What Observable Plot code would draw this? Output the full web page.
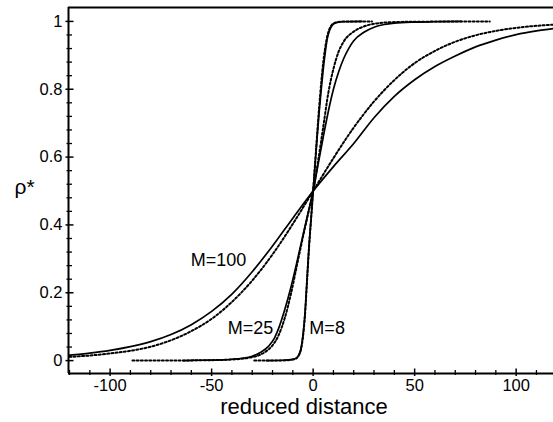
<!DOCTYPE html>
<html><head><meta charset="utf-8">
<script src="https://cdn.jsdelivr.net/npm/d3@7"></script>
<script src="https://cdn.jsdelivr.net/npm/@observablehq/plot@0.6"></script>
<style>html,body{margin:0;padding:0;background:#fff;overflow:hidden;}</style>
</head><body><div id="chart"></div>
<script>
// ---- data ----
const solid100X = [-120,-110,-100,-90,-80,-70,-60,-50,-40,-30,-20,-10,0,10,20,30,40,50,60,70,80,90,100,110,120];
const solid100Y = [0.016,0.022,0.030,0.041,0.056,0.077,0.106,0.145,0.196,0.262,0.338,0.42,0.5,0.572,0.64,0.716,0.779,0.828,0.867,0.898,0.925,0.945,0.961,0.972,0.98];
const dotted100X = [-120,-110,-100,-90,-80,-70,-60,-50,-40,-30,-20,-10,0,10,20,30,40,50,60,70,80,90,100,110,120];
const dotted100Y = [0.011,0.015,0.021,0.029,0.041,0.06,0.087,0.123,0.173,0.236,0.313,0.403,0.5,0.597,0.687,0.764,0.827,0.877,0.913,0.94,0.959,0.972,0.981,0.987,0.991];

const solid25X = [-64,-55,-45,-40,-35,-30,-26,-22,-19,-17,-14,-11,-8,-5,-2.5,0,2.5,5,7.5,10,12.5,15,17.5,20,25,30,35,40,50,60,73];
const solid25Y = [0,0.001,0.002,0.004,0.007,0.013,0.024,0.042,0.067,0.095,0.15,0.215,0.29,0.37,0.435,0.5,0.58,0.66,0.735,0.8,0.85,0.89,0.92,0.943,0.968,0.983,0.991,0.995,0.998,0.999,1];
const dotted25X = [-89,-70,-55,-45,-38,-32,-27,-23,-20,-17,-14,-11,-8,-5,-2.5,0,2.5,5,7.5,10,12.5,15,20,25,30,40,50,87];
const dotted25Y = [0,0.0003,0.001,0.002,0.004,0.008,0.015,0.028,0.045,0.075,0.125,0.195,0.28,0.365,0.432,0.5,0.59,0.69,0.79,0.86,0.91,0.94,0.97,0.985,0.993,0.998,0.999,1];

const solid8X = [-23,-15,-10,-8,-7,-6,-5,-4,-3,-2,-1,0,1,2,3,4,5,6,7,8,9,10,12,15,24];
const solid8Y = [0,0.001,0.004,0.009,0.018,0.035,0.075,0.14,0.24,0.34,0.42,0.5,0.58,0.66,0.735,0.8,0.86,0.91,0.95,0.972,0.985,0.992,0.997,0.999,1];
const dotted8X = [-29,-15,-10,-8,-7,-6,-5,-4,-3,-2,-1,0,1,2,3,4,5,6,7,8,9,10,12,15,29];
const dotted8Y = [0,0.0005,0.003,0.008,0.016,0.032,0.07,0.135,0.235,0.335,0.418,0.5,0.585,0.67,0.75,0.82,0.88,0.925,0.958,0.977,0.988,0.994,0.998,0.9995,1];

const xMajorTicks = [-100,-50,0,50,100];
const xMinorTicks = [-120,-110,-90,-80,-70,-60,-40,-30,-20,-10,10,20,30,40,60,70,80,90,110];
const yMajorTicks = [0,0.2,0.4,0.6,0.8,1];
const yMinorTicks = [0.04,0.08,0.12,0.16,0.24,0.28,0.32,0.36,0.44,0.48,0.52,0.56,0.64,0.68,0.72,0.76,0.84,0.88,0.92,0.96];

const curveLabels = ["M=100","M=25","M=8"];
const curveLabelX = [-46.6,-30.9,6.9];
const curveLabelY = [0.296,0.096,0.096];

const xTitle = "reduced distance";
const yTitle = "ρ*";

// ---- build tables ----
function pts(xs, ys, m) { return xs.map((x, i) => ({x, y: ys[i], M: m})); }
const solid = [...pts(solid100X, solid100Y, "100"), ...pts(solid25X, solid25Y, "25"), ...pts(solid8X, solid8Y, "8")];
const dotted = [...pts(dotted100X, dotted100Y, "100"), ...pts(dotted25X, dotted25Y, "25"), ...pts(dotted8X, dotted8Y, "8")];
const labels = curveLabels.map((t, i) => ({t, x: curveLabelX[i], y: curveLabelY[i]}));

const W = 553, H = 422, mL = 68, mR = 0, mT = 7, mB = 49;
const plotW = W - mL - mR, plotH = H - mT - mB;
const xDomain = [-120.5, 118.4];
const yDomain = [-0.038, 1.041];
// pixel -> data-unit conversion for tick lengths (derived from the scales)
const pxX = (xDomain[1] - xDomain[0]) / plotW;
const pxY = (yDomain[1] - yDomain[0]) / plotH;
const font = "'Liberation Sans', Arial, Helvetica, sans-serif";

const tickX = (ticks, outPx, inPx, sw) => Plot.link(ticks, {
  x1: d => d, x2: d => d,
  y1: () => yDomain[0] - outPx * pxY, y2: () => yDomain[0] + inPx * pxY,
  stroke: "black", strokeWidth: sw
});
const tickY = (ticks, outPx, inPx, sw) => Plot.link(ticks, {
  y1: d => d, y2: d => d,
  x1: () => xDomain[0] - outPx * pxX, x2: () => xDomain[0] + inPx * pxX,
  stroke: "black", strokeWidth: sw
});

const chart = Plot.plot({
  width: W, height: H,
  marginLeft: mL, marginRight: mR, marginTop: mT, marginBottom: mB,
  x: {domain: xDomain},
  y: {domain: yDomain},
  style: {fontFamily: font, fontSize: "16px", color: "black", background: "white"},
  marks: [
    Plot.line(dotted, {x: "x", y: "y", z: "M", stroke: "black", strokeWidth: 2, strokeDasharray: "2,2.2", curve: "monotone-x", clip: true}),
    Plot.line(solid, {x: "x", y: "y", z: "M", stroke: "black", strokeWidth: 1.7, curve: "monotone-x", clip: true}),
    Plot.text(labels, {x: "x", y: "y", text: "t", fontSize: 18, textAnchor: "middle", lineAnchor: "middle", fill: "black"}),
    // frame lines
    Plot.ruleX([xDomain[0]], {stroke: "black", strokeWidth: 2}),
    Plot.ruleY([yDomain[0]], {stroke: "black", strokeWidth: 2}),
    Plot.ruleY([yDomain[1]], {stroke: "black", strokeWidth: 2}),
    // tick marks crossing the axes
    tickX(xMajorTicks, 2.5, 5, 1.5),
    tickX(xMinorTicks, 1.5, 3.5, 1.3),
    tickY(yMajorTicks, 3, 5, 1.5),
    tickY(yMinorTicks, 2, 3.5, 1.3),
    // tick labels
    Plot.axisX(xMajorTicks, {anchor: "bottom", tickSize: 0, tickPadding: 6, tickFormat: d => String(d), label: null, fontSize: 16.5}),
    Plot.axisY(yMajorTicks, {anchor: "left", tickSize: 0, tickPadding: 6, tickFormat: d => String(d), label: null, fontSize: 16.5}),
    // titles
    Plot.text([xTitle], {frameAnchor: "bottom", dx: -7, dy: 40, lineAnchor: "bottom", textAnchor: "middle", fontSize: 22, fill: "black"}),
    Plot.text([yTitle], {frameAnchor: "left", dx: -44, dy: -3, lineAnchor: "middle", textAnchor: "middle", fontSize: 21, fill: "black"})
  ]
});
document.getElementById("chart").appendChild(chart);
</script>
</body></html>
